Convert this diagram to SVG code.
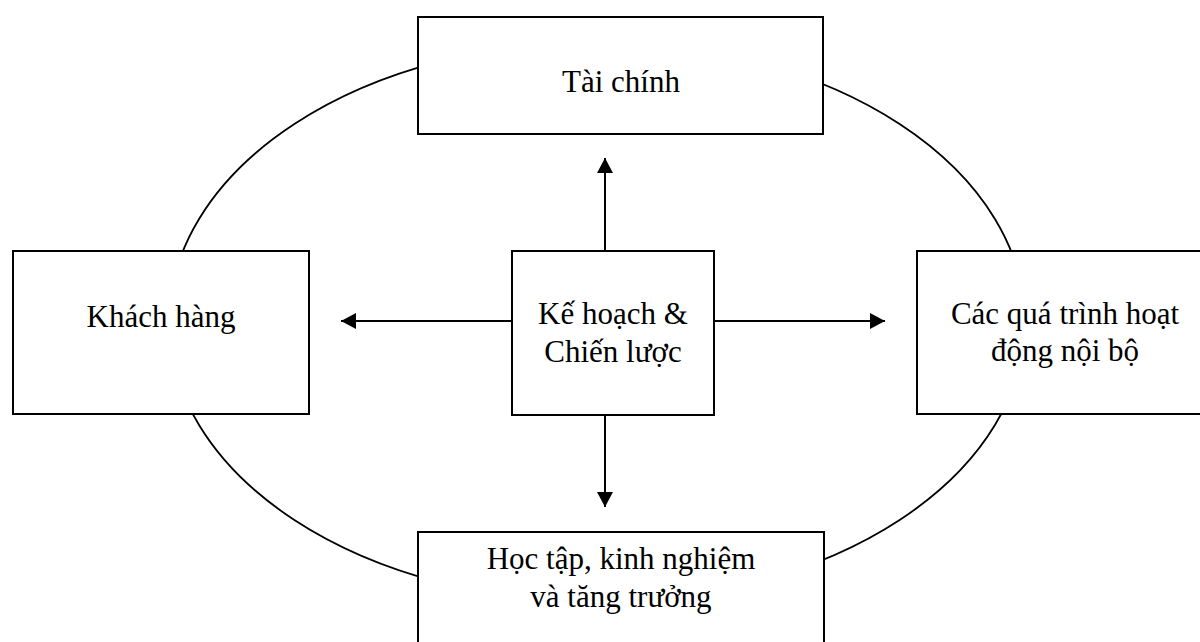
<svg xmlns="http://www.w3.org/2000/svg" width="1200" height="642" viewBox="0 0 1200 642">
<defs>
<style>
.box{fill:#fff;stroke:#000;stroke-width:2}
.lbl{font-family:"Liberation Serif","Times New Roman",serif;font-size:31px;fill:#000;text-anchor:middle}
.conn{stroke:#000;stroke-width:2;fill:none}
</style>
<marker id="arr" viewBox="0 0 15 16" refX="15" refY="8" markerWidth="15" markerHeight="16" markerUnits="userSpaceOnUse" orient="auto">
<path d="M0,0 L15,8 L0,16 Z" fill="#000"/>
</marker>
</defs>
<rect width="1200" height="642" fill="#fff"/>
<g id="cycle">
<ellipse cx="597" cy="322" rx="428" ry="280" fill="none" stroke="#000" stroke-width="1.8"/>
</g>
<g id="connectors">
<line class="conn" x1="605" y1="251" x2="605" y2="158" marker-end="url(#arr)"/>
<line class="conn" x1="605" y1="415" x2="605" y2="507" marker-end="url(#arr)"/>
<line class="conn" x1="512" y1="321" x2="341" y2="321" marker-end="url(#arr)"/>
<line class="conn" x1="714" y1="321" x2="885" y2="321" marker-end="url(#arr)"/>
</g>
<g id="node-taichinh">
<rect class="box" x="418" y="17" width="405" height="117"/>
<text class="lbl" x="621" y="92">Tài chính</text>
</g>
<g id="node-khachhang">
<rect class="box" x="13" y="251" width="296" height="163"/>
<text class="lbl" x="161" y="327">Khách hàng</text>
</g>
<g id="node-kehoach">
<rect class="box" x="512" y="251" width="202" height="164"/>
<text class="lbl" x="613" y="324">Kế hoạch &amp;</text>
<text class="lbl" x="613" y="362">Chiến lược</text>
</g>
<g id="node-quatrinh">
<rect class="box" x="917" y="251" width="296" height="163"/>
<text class="lbl" x="1065" y="324">Các quá trình hoạt</text>
<text class="lbl" x="1065" y="361">động nội bộ</text>
</g>
<g id="node-hoctap">
<rect class="box" x="418" y="532" width="406" height="130"/>
<text class="lbl" x="621" y="569">Học tập, kinh nghiệm</text>
<text class="lbl" x="621" y="607">và tăng trưởng</text>
</g>
</svg>
